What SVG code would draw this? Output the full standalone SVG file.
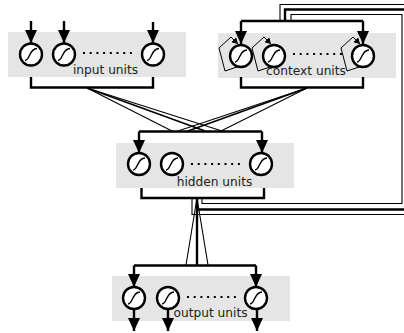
<svg xmlns="http://www.w3.org/2000/svg" width="404" height="333" viewBox="0 0 404 333">
<style>
.b{fill:#e5e5e5}
.t{font-family:"DejaVu Sans",sans-serif;font-size:12.2px;fill:#222;text-anchor:middle}
.c{fill:#fff;stroke:#000;stroke-width:2.4}
.s{fill:none;stroke:#000;stroke-width:1.1}
.v{fill:none;stroke:#000;stroke-width:1.4}
.w{fill:none;stroke:#000;stroke-width:2.4}
.f{fill:none;stroke:#000;stroke-width:1.7}
.n{fill:none;stroke:#000;stroke-width:1}
.d{fill:none;stroke:#000;stroke-width:2;stroke-dasharray:2 4.7}
</style>
<defs>
<marker id="a" markerUnits="userSpaceOnUse" markerWidth="14" markerHeight="13" refX="13" refY="6.500" orient="auto"><path d="M0 0.500L13 6.500L0 12.500z" fill="#000"/></marker>
<marker id="m" markerUnits="userSpaceOnUse" markerWidth="7" markerHeight="7" refX="6" refY="3.500" orient="auto"><path d="M0 0L6 3.500L0 7z" fill="#000"/></marker>
<g id="u"><circle class="c" r="11"/><path class="v" d="M-6 6C-1 6-2-6 6-6"/></g>
</defs>
<g id="input-units">
<rect class="b" x="8" y="32" width="178" height="45"/>
<use href="#u" x="31" y="54.500"/><use href="#u" x="64" y="54.500"/><use href="#u" x="153" y="54.500"/>
<path class="d" d="M83 53H133"/>
<text class="t" x="105.500" y="74">input units</text>
</g>
<g id="context-units">
<rect class="b" x="218" y="33" width="178" height="45"/>
<path class="n" marker-end="url(#m)" d="M240 66L225 71L219 48L231 37L238 44"/>
<path class="n" marker-end="url(#m)" d="M273 66L258 71L252 48L264 37L271 44"/>
<path class="n" marker-end="url(#m)" d="M362 66L347 71L341 48L353 37L360 44"/>
<use href="#u" x="241" y="56"/><use href="#u" x="274" y="56"/><use href="#u" x="363" y="56"/>
<path class="d" d="M293 54H343"/>
<text class="t" x="306" y="75">context units</text>
</g>
<g id="hidden-units">
<rect class="b" x="116" y="143" width="178" height="45"/>
<use href="#u" x="139" y="164"/><use href="#u" x="172" y="164"/><use href="#u" x="261" y="164"/>
<path class="d" d="M191 164H241"/>
<text class="t" x="214.500" y="186">hidden units</text>
</g>
<g id="output-units">
<rect class="b" x="112" y="276" width="178" height="45"/>
<use href="#u" x="134" y="298"/><use href="#u" x="168" y="298"/><use href="#u" x="256" y="298"/>
<path class="d" d="M187 297H237"/>
<text class="t" x="210.500" y="317">output units</text>
</g>
<g id="connectors">
<path class="w" marker-end="url(#a)" d="M31 21V43"/>
<path class="w" marker-end="url(#a)" d="M64 21V43"/>
<path class="w" marker-end="url(#a)" d="M153 22V43"/>
<path class="w" d="M31 77V87.500H153V77"/>
<path class="w" d="M241 77V87.500H363V77"/>
<path class="w" d="M241 21H363"/>
<path class="w" marker-end="url(#a)" d="M241 21V44"/>
<path class="w" marker-end="url(#a)" d="M363 21V44"/>
<path class="s" d="M87 88L172 131M87 88L222 131M307 88L178 131M307 88L221 131"/>
<path class="f" d="M87 88L205 131M307 88L188 131"/>
<path class="w" d="M139 131.500H262"/>
<path class="w" marker-end="url(#a)" d="M139 131.500V153"/>
<path class="w" marker-end="url(#a)" d="M262 131.500V153"/>
<path class="w" d="M141.500 188V198H264V188"/>
<path class="w" d="M197 198V265"/>
<path class="s" d="M197 198L186 265M197 198L208 265"/>
<path class="w" d="M134 265.500H256"/>
<path class="w" marker-end="url(#a)" d="M134 265.500V287"/>
<path class="w" marker-end="url(#a)" d="M256 265.500V287"/>
<path class="w" marker-end="url(#a)" d="M134 309V331"/>
<path class="w" marker-end="url(#a)" d="M168 309V331"/>
<path class="w" marker-end="url(#a)" d="M257 309V331"/>
<path class="s" d="M280 20V4.500H404"/>
<path class="w" d="M285 21V9.500H404"/>
<path class="s" d="M291 20V14.500H402V203.500H202V198"/>
<path class="w" d="M404 209.500H197"/>
<path class="s" d="M404 214.500H192V198"/>
</g>
</svg>
